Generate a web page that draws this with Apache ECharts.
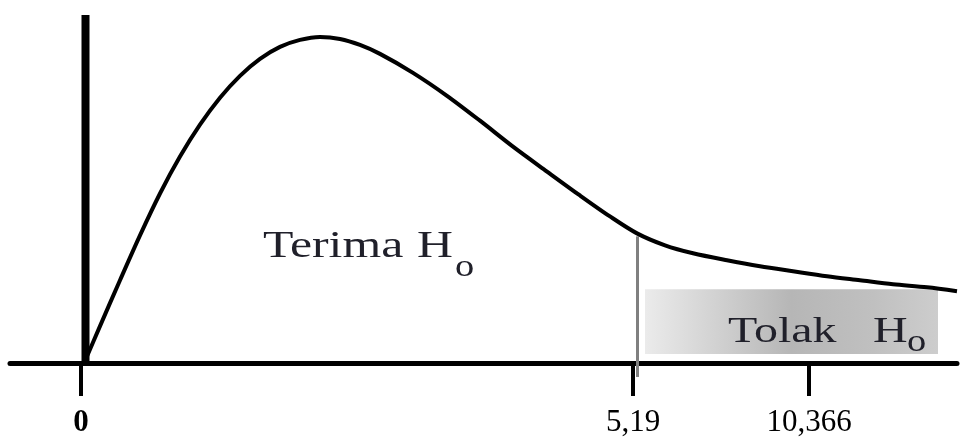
<!DOCTYPE html>
<html>
<head>
<meta charset="utf-8">
<script src="https://cdn.jsdelivr.net/npm/echarts@6/dist/echarts.min.js"></script>
<style>
  html, body { margin: 0; padding: 0; background: #fff; }
  #chart { width: 964px; height: 438px; }
</style>
</head>
<body>
<div id="chart"></div>
<script>
// Density curve, in schematic axis units (x along the axis, y height above it)
const curveX = [0.4, 1.9, 3.9, 5.9, 7.9, 9.9, 11.9, 13.9, 15.9, 17.9, 19.9, 21.9, 23.9, 25.9, 27.9, 29.9,
                33.2, 36.6, 39.9, 43.2, 46.6, 49.9, 52.9, 55.6, 58.4, 61.2, 64.6, 67.9, 71.2, 74.6, 77.9, 81.2, 84.6, 87.6];
const curveY = [0.2, 3.7, 8.3, 12.8, 17.0, 20.7, 23.9, 26.6, 28.8, 30.5, 31.7, 32.4, 32.7, 32.5, 31.9, 31.0,
                29.1, 26.8, 24.3, 21.7, 19.2, 16.8, 14.7, 13.0, 11.8, 11.0, 10.3, 9.7, 9.2, 8.7, 8.3, 7.9, 7.6, 7.2];

// Tick positions on the horizontal axis and the values written under them
const tickPos = [0, 55.2, 72.8];
const tickLabels = ['0', '5,19', '10,366'];

// Critical value marker and the rejection band
const criticalX = 55.65;
const criticalSpan = [-1.4, 12.7];
const rejectX = [56.4, 85.7];
const rejectY = [0.9, 7.4];

// Region captions
const acceptText = 'Terima';
const rejectText = 'Tolak';
const hypothesis = 'H';
const hypSub = 'o';

const X_MIN = -7.1, X_MAX = 87.6, Y_MAX = 34.9;

const chart = echarts.init(document.getElementById('chart'), null, { renderer: 'canvas' });

const serif = '"Liberation Serif", "Times New Roman", serif';

const option = {
  animation: false,
  backgroundColor: '#ffffff',
  grid: { left: 10, right: 7, top: 15, bottom: 74 },
  xAxis: {
    type: 'value',
    min: X_MIN,
    max: X_MAX,
    axisLine: { show: true, onZero: true, lineStyle: { color: '#000', width: 5 } },
    axisTick: {
      show: true,
      customValues: tickPos,
      length: 33,
      lineStyle: { color: '#000', width: 4 }
    },
    axisLabel: {
      show: true,
      customValues: tickPos,
      margin: 44,
      formatter: function (v) {
        const i = tickPos.indexOf(v);
        const t = i >= 0 ? tickLabels[i] : '';
        return i === 0 ? '{b|' + t + '}' : '{n|' + t + '}';
      },
      rich: {
        b: { fontFamily: serif, fontSize: 31, fontWeight: 'bold', color: '#000', lineHeight: 31 },
        n: { fontFamily: serif, fontSize: 31, color: '#000', lineHeight: 31 }
      }
    },
    splitLine: { show: false }
  },
  yAxis: {
    type: 'value',
    min: 0,
    max: Y_MAX,
    axisLine: { show: false },
    axisTick: { show: false },
    axisLabel: { show: false },
    splitLine: { show: false }
  },
  series: [
    {
      // rejection band
      type: 'line',
      data: [],
      silent: true,
      markArea: {
        silent: true,
        itemStyle: {
          color: new echarts.graphic.LinearGradient(0, 0, 1, 0, [
            { offset: 0, color: '#ebebeb' },
            { offset: 0.18, color: '#d8d8d8' },
            { offset: 0.5, color: '#b6b6b6' },
            { offset: 0.78, color: '#c0c0c0' },
            { offset: 1, color: '#cdcdcd' }
          ])
        },
        data: [[{ xAxis: rejectX[0], yAxis: rejectY[0] }, { xAxis: rejectX[1], yAxis: rejectY[1] }]]
      }
    },
    {
      // vertical axis bar
      type: 'line',
      data: [[0.45, 0], [0.45, Y_MAX]],
      symbol: 'none',
      silent: true,
      lineStyle: { color: '#000', width: 8, cap: 'butt' }
    },
    {
      // critical value line
      type: 'line',
      data: [[criticalX, criticalSpan[0]], [criticalX, criticalSpan[1]]],
      symbol: 'none',
      clip: false,
      silent: true,
      lineStyle: { color: '#808080', width: 3 }
    },
    {
      // density curve
      type: 'line',
      data: curveX.map((x, i) => [x, curveY[i]]),
      smooth: 0.3,
      symbol: 'none',
      clip: false,
      silent: true,
      lineStyle: { color: '#000', width: 4 }
    }
  ]
};

chart.setOption(option);

// Captions, anchored in axis units and stretched horizontally
function caption(text, at, size, sx) {
  const p = chart.convertToPixel({ gridIndex: 0 }, at);
  return {
    type: 'text',
    x: p[0],
    y: p[1],
    scaleX: sx,
    z: 100,
    silent: true,
    style: {
      text: text,
      font: 'normal ' + size + 'px "Liberation Serif"',
      fill: '#20202a',
      textAlign: 'left',
      textVerticalAlign: 'middle'
    }
  };
}

chart.setOption({
  graphic: [
    caption(acceptText, [18.2, 11.65], 38, 1.31),
    caption(hypothesis, [33.6, 11.65], 38, 1.31),
    caption(hypSub, [37.4, 9.6], 32, 1.2),
    caption(rejectText, [64.7, 3.05], 35, 1.37),
    caption(hypothesis, [79.2, 3.05], 35, 1.37),
    caption(hypSub, [82.6, 2.0], 32, 1.2)
  ]
});
</script>
</body>
</html>
